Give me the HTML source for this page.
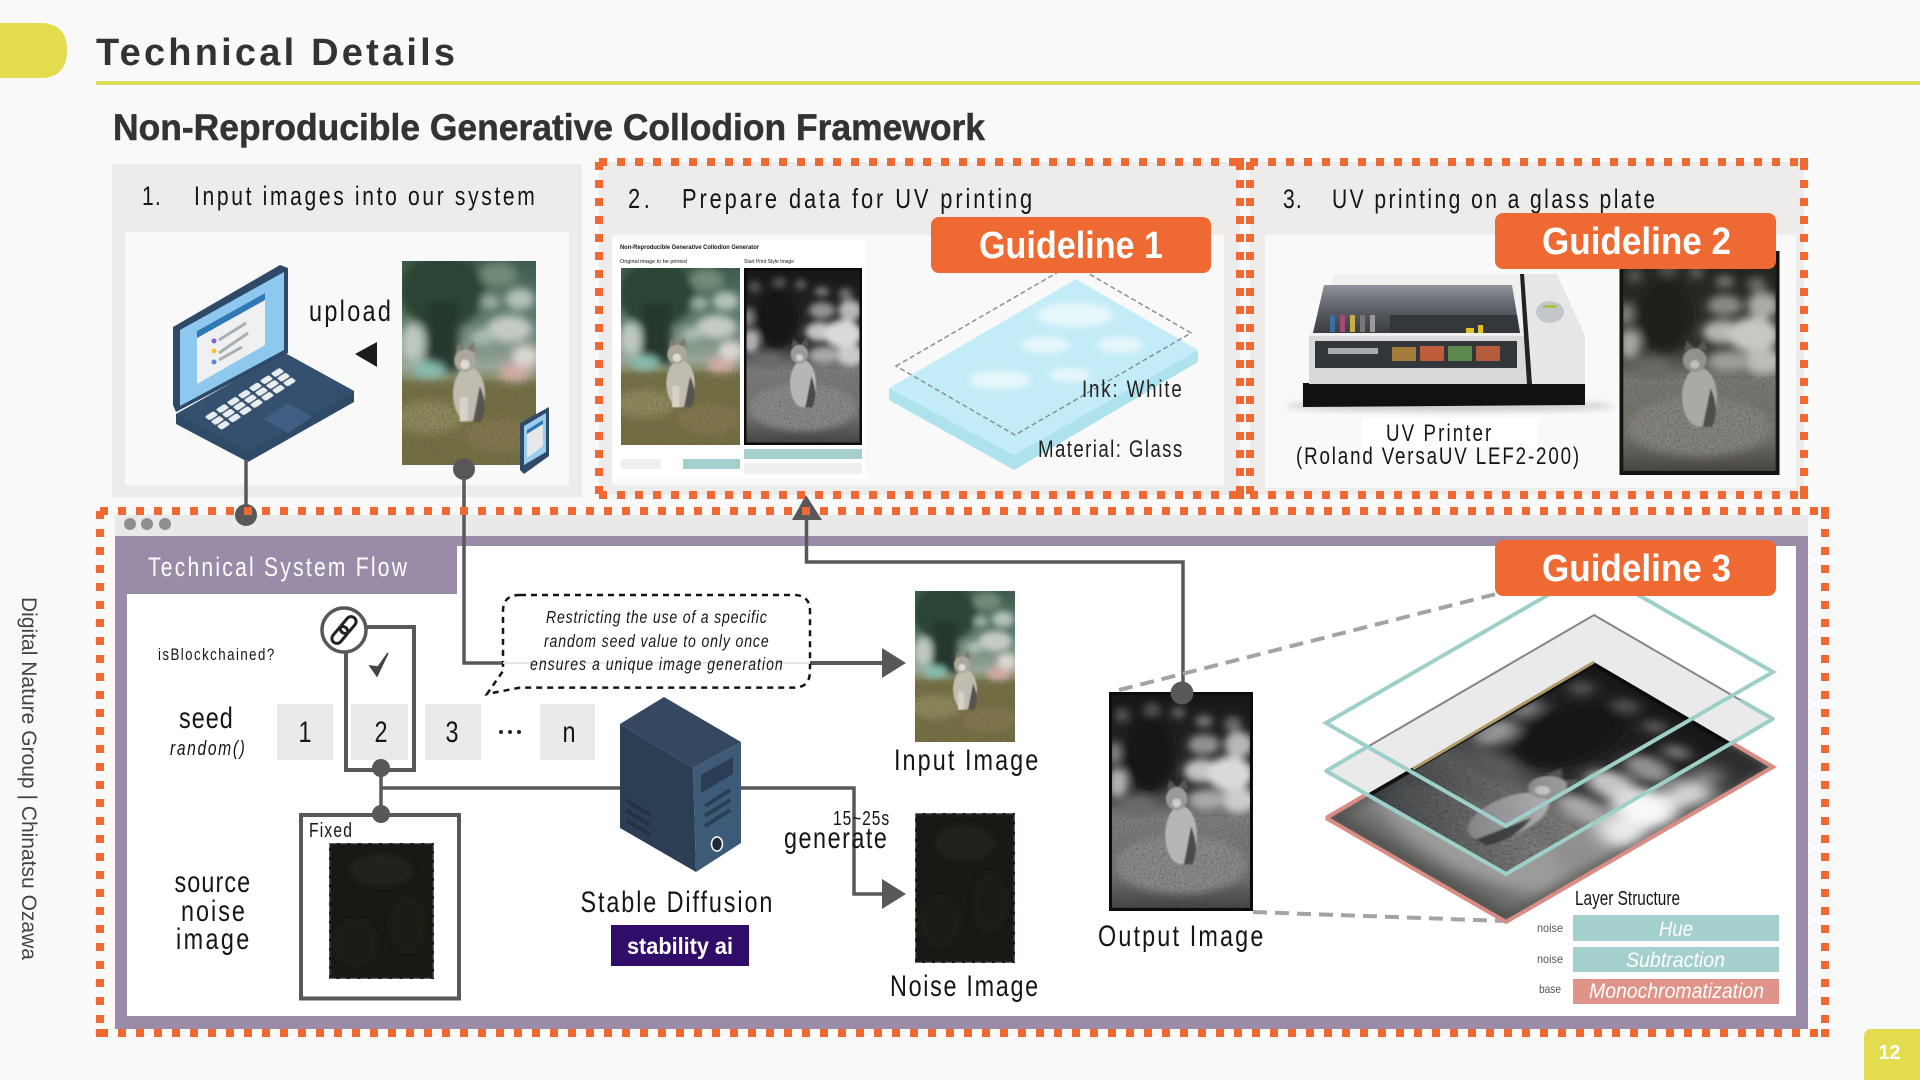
<!DOCTYPE html>
<html lang="en"><head><meta charset="utf-8"><title>Technical Details</title>
<style>
html,body{margin:0;padding:0;background:#f9f9f9;width:1920px;height:1080px;overflow:hidden}
svg{display:block}
text{font-family:"Liberation Sans",sans-serif;fill:#151515}
.i{font-style:italic}
</style></head><body>
<svg xmlns="http://www.w3.org/2000/svg" width="1920" height="1080" viewBox="0 0 1920 1080">
<defs>
<filter id="b6" x="-20%" y="-20%" width="140%" height="140%"><feGaussianBlur stdDeviation="3.2"/></filter>
<filter id="b3" x="-30%" y="-30%" width="160%" height="160%"><feGaussianBlur stdDeviation="2.8"/></filter>
<filter id="b1" x="-20%" y="-20%" width="140%" height="140%"><feGaussianBlur stdDeviation=".5"/></filter>
<filter id="gr" x="0" y="0" width="100%" height="100%"><feTurbulence type="fractalNoise" baseFrequency=".7" numOctaves="2" seed="4"/><feColorMatrix type="matrix" values="0 0 0 0 .1 0 0 0 0 .1 0 0 0 0 .07 0 0 0 1.4 -.55"/></filter>
<filter id="soft" x="0" y="0" width="100%" height="100%" color-interpolation-filters="sRGB">
<feGaussianBlur stdDeviation="3"/>
<feComponentTransfer><feFuncR type="linear" slope="1.05" intercept=".08"/><feFuncG type="linear" slope="1.05" intercept=".08"/><feFuncB type="linear" slope="1.05" intercept=".08"/></feComponentTransfer>
</filter>
<linearGradient id="pg" x1="0" y1="0" x2="0" y2="1">
<stop offset="0" stop-color="#3e5c4b"/><stop offset=".3" stop-color="#5f7c6b"/><stop offset=".52" stop-color="#98a598"/><stop offset=".6" stop-color="#7e8256"/><stop offset="1" stop-color="#6f6a3f"/>
</linearGradient>
<linearGradient id="tg" x1="0" y1="0" x2="0" y2="1">
<stop offset="0" stop-color="#161616"/><stop offset=".42" stop-color="#2c2c2c"/><stop offset=".58" stop-color="#7e7e7e"/><stop offset=".85" stop-color="#6e6e6e"/><stop offset="1" stop-color="#3a3a3a"/>
</linearGradient>
<symbol id="photo" viewBox="0 0 100 150" preserveAspectRatio="none">
<rect width="100" height="150" fill="url(#pg)"/>
<g filter="url(#b6)">
<ellipse cx="30" cy="22" rx="32" ry="28" fill="#2b4436"/>
<rect x="18" y="30" width="24" height="52" fill="#26382e"/>
<ellipse cx="72" cy="10" rx="14" ry="9" fill="#6f8b78"/>
<ellipse cx="88" cy="28" rx="11" ry="8" fill="#b4c2b8"/>
<ellipse cx="66" cy="30" rx="7" ry="5" fill="#9fb2a4"/>
<ellipse cx="80" cy="50" rx="17" ry="10" fill="#c4cbc4"/>
<ellipse cx="60" cy="56" rx="9" ry="6" fill="#aabbb0"/>
<ellipse cx="8" cy="60" rx="9" ry="14" fill="#bdc8bf"/>
<ellipse cx="20" cy="80" rx="12" ry="6" fill="#86bcae"/>
<ellipse cx="84" cy="82" rx="12" ry="7" fill="#cfa9a2"/>
<ellipse cx="92" cy="70" rx="10" ry="8" fill="#dad6d0"/>
<rect x="-5" y="90" width="110" height="65" fill="#74703f"/>
<ellipse cx="20" cy="115" rx="26" ry="12" fill="#8f8a5a"/>
<ellipse cx="75" cy="128" rx="28" ry="12" fill="#85784c"/>
</g>
<rect x="0" y="88" width="100" height="62" filter="url(#gr)"/>
<g filter="url(#b1)">
<ellipse cx="50" cy="98" rx="12" ry="20" fill="#c0bcb0"/>
<ellipse cx="47" cy="73" rx="8" ry="8.5" fill="#aca79b"/>
<path d="M40 67l2-7 5 5zM48 65l5-6 2 8z" fill="#7f796e"/>
<ellipse cx="47" cy="76" rx="3.5" ry="3.5" fill="#e0dcd2"/>
<path d="M58 92q7 14 1 26l-6 0z" fill="#55554f"/>
<rect x="43" y="100" width="6" height="18" fill="#d8d3c9"/>
</g>
</symbol>
<symbol id="tin" viewBox="0 0 100 150" preserveAspectRatio="none">
<rect width="100" height="150" fill="url(#tg)"/>
<g filter="url(#b3)">
<ellipse cx="9" cy="16" rx="5" ry="5" fill="#555"/><ellipse cx="30" cy="12" rx="6" ry="4" fill="#555"/><ellipse cx="48" cy="14" rx="5" ry="4" fill="#606060"/><ellipse cx="66" cy="20" rx="6" ry="4" fill="#7a7a7a"/><ellipse cx="86" cy="22" rx="6" ry="5" fill="#6e6e6e"/>
<ellipse cx="28" cy="42" rx="18" ry="26" fill="#161616"/>
<ellipse cx="66" cy="36" rx="11" ry="7" fill="#929292"/><ellipse cx="90" cy="36" rx="10" ry="9" fill="#b8b8b8"/><ellipse cx="64" cy="54" rx="12" ry="8" fill="#c4c4c4"/><ellipse cx="84" cy="56" rx="16" ry="12" fill="#dadada"/><ellipse cx="90" cy="74" rx="12" ry="9" fill="#cccccc"/><ellipse cx="68" cy="74" rx="13" ry="7" fill="#a8a8a8"/>
<ellipse cx="4" cy="42" rx="4" ry="8" fill="#8a8a8a"/><ellipse cx="6" cy="62" rx="7" ry="10" fill="#b0b0b0"/><ellipse cx="20" cy="78" rx="12" ry="6" fill="#6a6a6a"/>
<ellipse cx="50" cy="118" rx="46" ry="20" fill="#8a8a8a"/>
</g>
<rect x="0" y="84" width="100" height="66" filter="url(#gr)"/>
<g filter="url(#b1)">
<ellipse cx="50" cy="98" rx="11" ry="20" fill="#b6b6b6"/>
<ellipse cx="47" cy="73" rx="7.5" ry="8" fill="#9a9a9a"/>
<path d="M40 67l2-7 5 5zM48 65l5-6 2 8z" fill="#555"/>
<ellipse cx="47" cy="76" rx="3" ry="3" fill="#cfcfcf"/>
<path d="M57 92q6 14 1 26l-6 0z" fill="#4c4c4c"/>
</g>
<rect x="1" y="1" width="98" height="148" fill="none" stroke="#0c0c0c" stroke-width="2.2"/>
</symbol>
<symbol id="noise" viewBox="0 0 100 150" preserveAspectRatio="none">
<rect width="100" height="150" fill="#1a1815"/>
<g filter="url(#b6)"><ellipse cx="50" cy="30" rx="30" ry="18" fill="#24221f"/><ellipse cx="25" cy="110" rx="22" ry="26" fill="#1c1a15"/><ellipse cx="75" cy="90" rx="18" ry="30" fill="#1f1c16"/></g>
<rect x=".6" y=".6" width="98.8" height="148.8" fill="none" stroke="#6b675f" stroke-width="1.2" stroke-dasharray="7 3"/>
</symbol>
<pattern id="keys" patternUnits="userSpaceOnUse" width="1" height="1"><rect x=".1" y=".1" width=".8" height=".8" rx=".18" fill="#e8edf0"/></pattern>
<clipPath id="cb"><polygon points="1594,662 1773,767 1506,922 1326,818"/></clipPath>
<clipPath id="co"><polygon points="1594,662 1732,743 1506,874 1367,794"/></clipPath>
<linearGradient id="lid" x1="0" y1="0" x2="0" y2="1"><stop offset="0" stop-color="#8f949b"/><stop offset=".5" stop-color="#5a5f66"/><stop offset="1" stop-color="#3a3d42"/></linearGradient>
<linearGradient id="dk" gradientUnits="userSpaceOnUse" x1="1367" y1="794" x2="1560" y2="760"><stop offset="0" stop-color="#10161c" stop-opacity=".6"/><stop offset="1" stop-color="#10161c" stop-opacity="0"/></linearGradient>
</defs>
<rect width="1920" height="1080" fill="#f9f9f9"/>
<path d="M0 23H40Q67 23 67 50Q67 78 40 78H0Z" fill="#e3dc4f"/>
<text x="96" y="65" font-size="38" font-weight="700" style="fill:#333" textLength="359" lengthAdjust="spacing">Technical Details</text>
<rect x="96" y="81" width="1824" height="4" fill="#e0dc5c"/>
<text x="113" y="140" font-size="37" font-weight="700" style="fill:#333;stroke:#333;stroke-width:.5" textLength="872" lengthAdjust="spacingAndGlyphs">Non-Reproducible Generative Collodion Framework</text>

<!-- Panel 1 -->
<rect x="112" y="164" width="470" height="333" fill="#eeecea"/>
<rect x="125" y="232" width="444" height="253" fill="#f9f9f9"/>
<text transform="translate(142,205) scale(.78,1)" font-size="27" textLength="24">1.</text>
<text transform="translate(194,205) scale(.78,1)" font-size="27" textLength="437">Input images into our system</text>
<text transform="translate(309,321) scale(.78,1)" font-size="30" textLength="105">upload</text>
<polygon points="355,354 377,342 377,367" fill="#1c1c1c"/>
<use href="#photo" x="402" y="261" width="134" height="204"/>
<!-- laptop -->
<polygon points="176,414 285,353 354,391 354,402 248,462 176,424" fill="#2f4a66"/>
<polygon points="176,414 285,353 354,391 248,452" fill="#35506e"/>
<polygon points="173,327 280,265 288,268 288,353 176,412 173,405" fill="#2f4a66"/>
<polygon points="180,330 284,272 284,350 180,406" fill="#8fc8ef"/>
<polygon points="197,331 265,293 265,345 197,384" fill="#eef0f2"/>
<polygon points="197,331 265,293 265,300 197,338" fill="#2f79b5"/>
<g stroke="#a9aeb2" stroke-width="3"><line x1="219" y1="340" x2="246" y2="323"/><line x1="219" y1="353" x2="248" y2="333"/><line x1="219" y1="360" x2="242" y2="347"/></g>
<circle cx="214" cy="341" r="2.5" fill="#8d5cc9"/><circle cx="214" cy="351" r="2.5" fill="#f2c230"/><circle cx="214" cy="362" r="2.5" fill="#5e87d8"/>
<g transform="matrix(11,-7.2,6,4.7,203,417)"><rect width="7" height="3" fill="url(#keys)"/></g>
<polygon points="263,419 288,403 312,417 288,433" fill="#3e5f83"/>
<!-- phone -->
<polygon points="520,423 549,407 549,456 524,474 520,470" fill="#2f4a66"/>
<polygon points="524,426 546,413 546,452 524,465" fill="#9ccdf0"/>
<polygon points="527,430 543,420 543,446 527,458" fill="#e6e9ea"/>
<polygon points="527,430 543,420 543,424 527,434" fill="#2f79b5"/>

<!-- Panel 2 -->
<rect x="599" y="162" width="641" height="333" fill="#eeecea"/>
<rect x="612" y="235" width="612" height="250" fill="#f9f9f9"/>
<text transform="translate(628,208) scale(.78,1)" font-size="28" textLength="28">2.</text>
<text transform="translate(682,208) scale(.78,1)" font-size="28" textLength="449">Prepare data for UV printing</text>
<rect x="612" y="240" width="253" height="239" fill="#fff"/>
<text x="620" y="249" font-size="6" font-weight="700" textLength="139" lengthAdjust="spacingAndGlyphs">Non-Reproducible Generative Collodion Generator</text>
<text x="620" y="263" font-size="5.5" textLength="67" lengthAdjust="spacingAndGlyphs">Original image to be printed</text>
<text x="744" y="263" font-size="5.5" textLength="50" lengthAdjust="spacingAndGlyphs">Start Print Style Image</text>
<use href="#photo" x="621" y="268" width="119" height="177"/>
<use href="#tin" x="744" y="268" width="118" height="177"/>
<rect x="621" y="459" width="40" height="10" fill="#eeeff1"/><rect x="683" y="459" width="57" height="10" fill="#a5cfcd"/>
<rect x="744" y="449" width="118" height="10" fill="#a5cfcd"/><rect x="744" y="463" width="118" height="11" fill="#eeeff1"/>
<!-- glass -->
<polygon points="889,388 889,400 1014,470 1198,362 1198,350 1014,455" fill="#aee3ee"/>
<polygon points="889,388 1076,279 1198,350 1014,455" fill="#c4ecf8"/>
<g filter="url(#b3)" fill="#e6f7fb"><ellipse cx="1075" cy="315" rx="38" ry="12"/><ellipse cx="1045" cy="345" rx="24" ry="8"/><ellipse cx="1000" cy="380" rx="30" ry="9"/><ellipse cx="1120" cy="345" rx="22" ry="8"/><ellipse cx="1070" cy="375" rx="20" ry="7"/></g>
<polygon points="896,366 1072,264 1191,333 1015,435" fill="none" stroke="#8a8f92" stroke-width="1.5" stroke-dasharray="5 3"/>
<text transform="translate(1082,397) scale(.78,1)" font-size="24" style="fill:#222" textLength="128">Ink: White</text>
<text transform="translate(1038,457) scale(.78,1)" font-size="24" style="fill:#222" textLength="185">Material: Glass</text>

<!-- Panel 3 -->
<rect x="1250" y="162" width="554" height="333" fill="#eeecea"/>
<rect x="1265" y="235" width="531" height="253" fill="#f9f9f9"/>
<text transform="translate(1283,208) scale(.78,1)" font-size="27" textLength="24">3.</text>
<text transform="translate(1332,208) scale(.78,1)" font-size="27" textLength="414">UV printing on a glass plate</text>
<!-- printer -->
<ellipse cx="1450" cy="406" rx="165" ry="6" fill="#cfcfcf" filter="url(#b6)"/>
<polygon points="1303,383 1585,383 1585,405 1303,407" fill="#111"/>
<polygon points="1309,336 1529,336 1529,384 1309,384" fill="#d8d9da"/>
<polygon points="1335,274 1520,274 1529,336 1309,336" fill="#f0f0f0"/>
<polygon points="1324,285 1512,285 1520,333 1313,333" fill="url(#lid)"/>
<polygon points="1390,315 1517,315 1520,333 1390,333" fill="#34373b"/>
<g><rect x="1330" y="315" width="5" height="17" fill="#3a6ea5"/><rect x="1340" y="315" width="5" height="17" fill="#a54a7a"/><rect x="1350" y="315" width="5" height="17" fill="#c9ad45"/><rect x="1360" y="315" width="5" height="17" fill="#777"/><rect x="1370" y="315" width="5" height="17" fill="#999"/></g>
<rect x="1315" y="341" width="202" height="27" fill="#33363a"/>
<rect x="1392" y="347" width="24" height="14" fill="#a27a3a"/><rect x="1420" y="346" width="24" height="15" fill="#c05c3c"/><rect x="1448" y="346" width="24" height="15" fill="#5d8a4c"/><rect x="1476" y="346" width="24" height="15" fill="#b45c3c"/>
<rect x="1328" y="348" width="50" height="6" fill="#a9adb2"/>
<rect x="1478" y="325" width="5" height="8" fill="#e0c026"/><rect x="1466" y="328" width="8" height="5" fill="#e0c026"/>
<polygon points="1520,274 1557,274 1585,336 1585,384 1529,384" fill="#e6e7e8"/>
<polygon points="1520,274 1524,274 1532,384 1527,384" fill="#222"/>
<ellipse cx="1550" cy="312" rx="14" ry="11" fill="#c4c7ca"/><rect x="1543" y="305" width="14" height="3" fill="#a6c64a"/>
<rect x="1362" y="418" width="175" height="30" fill="#fff"/>
<text transform="translate(1386,441) scale(.78,1)" font-size="24" textLength="135">UV Printer</text>
<text transform="translate(1296,464) scale(.78,1)" font-size="24" textLength="363">(Roland VersaUV LEF2-200)</text>
<use href="#tin" x="1620" y="252" width="159" height="222"/>
<rect x="1620" y="252" width="159" height="222" fill="#6b5a3a" opacity=".14"/>
<rect x="1620.5" y="252" width="158" height="222" fill="none" stroke="#111" stroke-width="2"/>

<!-- Panel 4 -->
<rect x="115" y="515" width="1693" height="21" fill="#e9e9e9"/>
<circle cx="130" cy="524" r="6" fill="#8f8f8f"/><circle cx="147" cy="524" r="6" fill="#8f8f8f"/><circle cx="165" cy="524" r="6" fill="#8f8f8f"/>
<rect x="115" y="536" width="1693" height="493" fill="#9a8ba8"/>
<rect x="127" y="546" width="1669" height="470" fill="#fff"/>
<rect x="115" y="536" width="342" height="58" fill="#9a8ba8"/>
<text transform="translate(148,576) scale(.78,1)" font-size="27" style="fill:#fff" textLength="332">Technical System Flow</text>

<!-- connectors -->
<g fill="none" stroke="#58585a" stroke-width="3.5">
<line x1="246" y1="460" x2="246" y2="515"/>
<path d="M464 469V663H503"/>
<path d="M1183 693V562H806.5V518"/>
<path d="M381 768V814"/>
<path d="M381 788H854V894H884"/>
<rect x="346" y="627" width="68" height="143" stroke-width="4"/>
<rect x="301" y="815" width="158" height="183.5" stroke-width="4"/>
<line x1="808" y1="663" x2="884" y2="663" stroke-width="4"/>
</g>
<polygon points="806,495 792,520 822,520" fill="#58585a"/>
<polygon points="882,648 906,663 882,678" fill="#58585a"/>
<polygon points="882,879 906,894 882,909" fill="#58585a"/>
<circle cx="246" cy="515" r="11" fill="#58585a"/>
<circle cx="464" cy="469" r="11" fill="#58585a"/>
<circle cx="381" cy="814" r="9" fill="#58585a"/>

<!-- Dashed frames -->
<g fill="none" stroke="#ee6a32" stroke-width="8" stroke-dasharray="8 10">
<path d="M599 162H1240M599 162V495M1240 162V495M599 495H1240"/>
<path d="M1250 162H1804M1250 162V495M1804 162V495M1250 495H1804"/>
<path d="M100 511H1825M100 511V1033M1825 511V1033M100 1033H1825"/>
</g>
<g fill="#ee6a32"><rect x="1236" y="158" width="8" height="8"/><rect x="1236" y="491" width="8" height="8"/><rect x="1800" y="158" width="8" height="8"/><rect x="1800" y="491" width="8" height="8"/><rect x="1821" y="507" width="8" height="8"/><rect x="1821" y="1029" width="8" height="8"/><rect x="96" y="1029" width="8" height="8"/></g>

<!-- Left labels -->
<circle cx="344" cy="630" r="22" fill="#fff" stroke="#58585a" stroke-width="3.5"/>
<g transform="rotate(-50 344 630)" fill="none" stroke="#222" stroke-width="3"><rect x="328" y="625" width="19" height="10" rx="5"/><rect x="341" y="625" width="19" height="10" rx="5"/></g>
<path d="M370 666l7 10 11-23-10 14z" fill="#444" stroke="#444" stroke-width="1.5"/>
<text transform="translate(158,660) scale(.78,1)" font-size="17" textLength="149">isBlockchained?</text>
<text transform="translate(179,728) scale(.78,1)" font-size="30" textLength="69">seed</text>
<text transform="translate(170,755) scale(.78,1)" font-size="20" class="i" textLength="96">random()</text>
<g fill="#ebeaea"><rect x="277" y="704" width="56" height="56"/><rect x="351" y="704" width="57" height="56"/><rect x="425" y="704" width="56" height="56"/><rect x="540" y="704" width="55" height="56"/></g>
<circle cx="381" cy="768" r="9" fill="#58585a"/>
<g font-size="30" text-anchor="middle"><text transform="translate(305,742) scale(.78,1)">1</text><text transform="translate(381,742) scale(.78,1)">2</text><text transform="translate(452,742) scale(.78,1)">3</text><text transform="translate(569,742) scale(.78,1)">n</text></g>
<circle cx="501" cy="732" r="2" fill="#222"/><circle cx="510" cy="732" r="2" fill="#222"/><circle cx="519" cy="732" r="2" fill="#222"/>
<text transform="translate(309,837) scale(.78,1)" font-size="20" textLength="55">Fixed</text>
<use href="#noise" x="329" y="843" width="105" height="136"/>
<text transform="translate(174.5,892) scale(.78,1)" font-size="30" textLength="97">source</text>
<text transform="translate(181,921) scale(.78,1)" font-size="30" textLength="82">noise</text>
<text transform="translate(176,949) scale(.78,1)" font-size="30" textLength="94">image</text>

<!-- Callout -->
<path d="M520 595H794Q810 595 810 611V671Q810 687.6 794 687.6H520L487 694L503 671V611Q503 595 520 595Z" fill="#fff" stroke="#151515" stroke-width="2.5" stroke-dasharray="6 5"/>
<line x1="503" y1="663" x2="810" y2="663" stroke="#e6e6e6" stroke-width="2"/>
<text transform="translate(546,623) scale(.78,1)" font-size="18" class="i" textLength="283">Restricting the use of a specific</text>
<text transform="translate(544,647) scale(.78,1)" font-size="18" class="i" textLength="288">random seed value to only once</text>
<text transform="translate(530,670) scale(.78,1)" font-size="18" class="i" textLength="324">ensures a unique image generation</text>

<!-- Server -->
<polygon points="664,697 741,742 693,768 620,724" fill="#34485f"/>
<polygon points="620,724 693,768 696,872 620,828" fill="#2c3e53"/>
<polygon points="693,768 741,742 741,843 696,872" fill="#3e5a79"/>
<polygon points="701,775 733,757 733,774 701,793" fill="#2c3e53"/>
<g stroke="#2c3e53" stroke-width="4"><line x1="705" y1="806" x2="730" y2="790"/><line x1="705" y1="816" x2="730" y2="800"/><line x1="705" y1="826" x2="730" y2="810"/><line x1="626" y1="800" x2="650" y2="815" stroke="#233345"/><line x1="626" y1="810" x2="650" y2="825" stroke="#233345"/><line x1="626" y1="820" x2="650" y2="835" stroke="#233345"/></g>
<ellipse cx="717" cy="844" rx="5.5" ry="7" fill="#1c2a3a" stroke="#fff" stroke-width="1.5"/>
<text transform="translate(580.5,912) scale(.78,1)" font-size="30" textLength="246">Stable Diffusion</text>
<rect x="611" y="925" width="138" height="41" fill="#2f0d68"/>
<text x="627" y="954" font-size="23" font-weight="700" style="fill:#fff" textLength="106" lengthAdjust="spacingAndGlyphs">stability ai</text>

<!-- Middle images -->
<use href="#photo" x="915" y="591" width="100" height="151"/>
<text transform="translate(894,770) scale(.78,1)" font-size="30" textLength="185">Input Image</text>
<text transform="translate(833,825) scale(.78,1)" font-size="20" textLength="72">15~25s</text>
<text transform="translate(784,848) scale(.78,1)" font-size="30" textLength="132">generate</text>
<use href="#noise" x="915" y="813" width="100" height="150"/>
<text transform="translate(890,996) scale(.78,1)" font-size="30" textLength="190">Noise Image</text>
<use href="#tin" x="1109" y="692" width="144" height="219"/>
<circle cx="1182" cy="693" r="11.5" fill="#58585a"/>
<text transform="translate(1098,946) scale(.78,1)" font-size="30" textLength="212">Output Image</text>
<g stroke="#a3a3a3" stroke-width="4" stroke-dasharray="14 8" fill="none"><line x1="1119" y1="690" x2="1496" y2="594"/><line x1="1253" y1="912" x2="1505" y2="921"/></g>

<!-- Layers -->
<polygon points="1326,818 1594,662 1773,767 1506,922" fill="#888"/>
<g clip-path="url(#cb)"><g transform="matrix(1.79,1.05,-1.787,1.04,1594,662)"><use href="#tin" width="100" height="150" filter="url(#soft)"/></g></g>
<polygon points="1594,615 1773,719 1732,743 1594,662 1367,794 1326,771" fill="#ebeaea"/>
<g clip-path="url(#co)"><g transform="matrix(1.79,1.05,-1.787,1.04,1594,662)"><use href="#tin" width="100" height="150"/></g><rect x="1300" y="650" width="480" height="240" fill="url(#dk)"/></g>
<polygon points="1594,615 1773,719 1506,874 1326,771" fill="none" stroke="#2a2a2a" stroke-width="2" opacity=".55"/>
<path d="M1413 769L1594 662" stroke="#b09a6a" stroke-width="3" fill="none"/>
<path d="M1326 818L1506 922L1773 767L1732 743" fill="none" stroke="#da8d84" stroke-width="4"/>
<path d="M1326 818L1367 794" stroke="#da8d84" stroke-width="4"/>
<g fill="none" stroke="#9fcfcb" stroke-width="4">
<polygon points="1326,723 1593,569 1773,672 1506,826"/>
<polyline points="1326,771 1506,874 1773,719"/>
<line x1="1326" y1="771" x2="1367" y2="747"/>
<line x1="1773" y1="719" x2="1740" y2="700"/>
</g>
<text x="1575" y="905" font-size="20" textLength="105" lengthAdjust="spacingAndGlyphs">Layer Structure</text>
<rect x="1573" y="915" width="206" height="26" fill="#a5cfcd"/><rect x="1573" y="947" width="206" height="25" fill="#a5cfcd"/><rect x="1573" y="979" width="206" height="25" fill="#df9389"/>
<text x="1659" y="936" font-size="21" class="i" style="fill:#fff" textLength="34" lengthAdjust="spacingAndGlyphs">Hue</text>
<text x="1626" y="967" font-size="21" class="i" style="fill:#fff" textLength="99" lengthAdjust="spacingAndGlyphs">Subtraction</text>
<text x="1589" y="998" font-size="21" class="i" style="fill:#fff" textLength="175" lengthAdjust="spacingAndGlyphs">Monochromatization</text>
<text x="1537" y="932" font-size="12" style="fill:#555" textLength="26" lengthAdjust="spacingAndGlyphs">noise</text><text x="1537" y="963" font-size="12" style="fill:#555" textLength="26" lengthAdjust="spacingAndGlyphs">noise</text><text x="1539" y="993" font-size="12" style="fill:#555" textLength="22" lengthAdjust="spacingAndGlyphs">base</text>

<!-- Guidelines -->
<rect x="931" y="217" width="280" height="56" rx="8" fill="#ee6a32"/>
<text x="979" y="258" font-size="38" font-weight="700" style="fill:#fff" textLength="184" lengthAdjust="spacingAndGlyphs">Guideline 1</text>
<rect x="1495" y="213" width="281" height="56" rx="8" fill="#ee6a32"/>
<text x="1542" y="254" font-size="38" font-weight="700" style="fill:#fff" textLength="189" lengthAdjust="spacingAndGlyphs">Guideline 2</text>
<rect x="1495" y="540" width="281" height="56" rx="8" fill="#ee6a32"/>
<text x="1542" y="581" font-size="38" font-weight="700" style="fill:#fff" textLength="189" lengthAdjust="spacingAndGlyphs">Guideline 3</text>

<!-- Footer -->
<path d="M1864 1037Q1864 1029 1872 1029H1920V1080H1864Z" fill="#e3dc4f"/>
<text x="1878.5" y="1059" font-size="20" font-weight="700" style="fill:#fff" textLength="22" lengthAdjust="spacingAndGlyphs">12</text>
<text transform="translate(22,597) rotate(90)" font-size="21" style="fill:#444" textLength="363" lengthAdjust="spacingAndGlyphs">Digital Nature Group | Chinatsu Ozawa</text>
</svg>
</body></html>
